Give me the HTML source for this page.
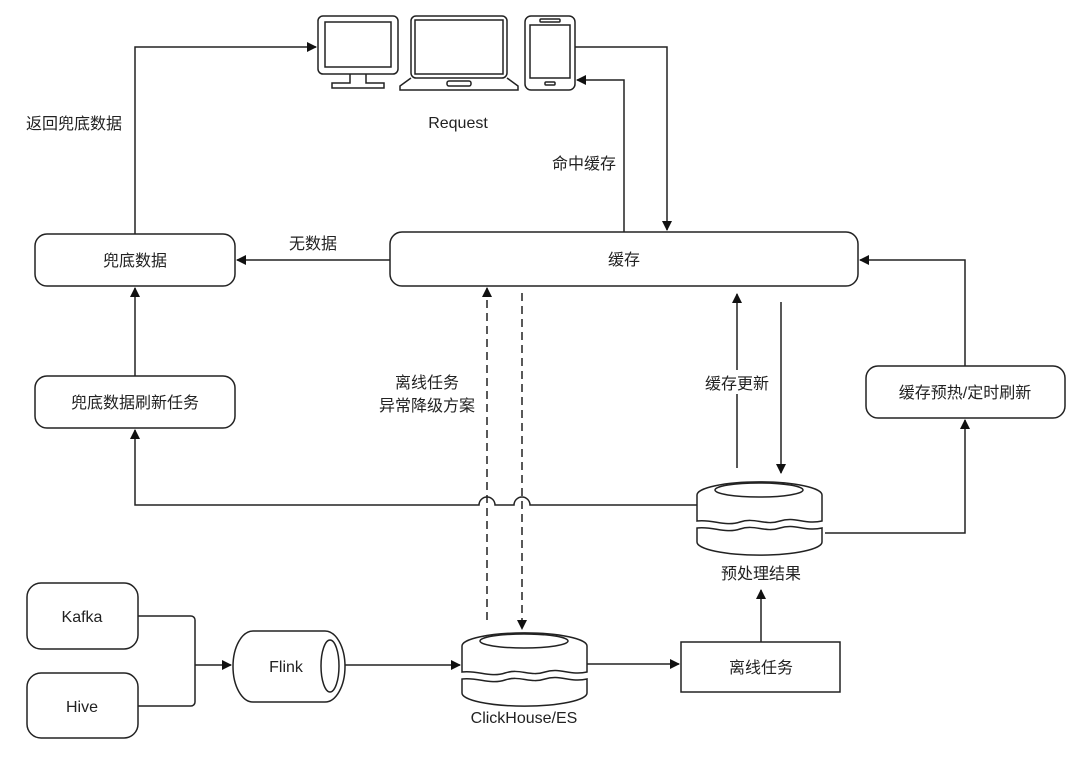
<!DOCTYPE html>
<html><head><meta charset="utf-8"><style>
html,body{margin:0;padding:0;background:#fff;}
svg text{font-family:"Liberation Sans","Noto Sans CJK SC",sans-serif;font-size:16px;fill:#222;}
</style></head><body>
<svg width="1080" height="752" viewBox="0 0 1080 752" xmlns="http://www.w3.org/2000/svg">
<defs>
<marker id="a" markerWidth="10" markerHeight="10" refX="9" refY="5" orient="auto" markerUnits="userSpaceOnUse"><path d="M0,0 L10,5 L0,10 z" fill="#111"/></marker>
</defs>
<g fill="none" stroke="#222" stroke-width="1.5">
<rect x="318" y="16" width="80" height="58" rx="5"/><rect x="325" y="22" width="66" height="45"/>
<path d="M350,74 v9 h-18 v5 h52 v-5 h-18 v-9"/>
<rect x="411" y="16" width="96" height="62" rx="5"/><rect x="415" y="20" width="88" height="54"/>
<path d="M411,78 l-11,8 v4 h118 v-4 l-11,-8"/><rect x="447" y="81" width="24" height="5" rx="2"/>
<rect x="525" y="16" width="50" height="74" rx="6"/><rect x="530" y="25" width="40" height="53"/>
<rect x="540" y="19" width="20" height="3" rx="1"/><rect x="545" y="82" width="10" height="3" rx="1"/>
<rect x="35" y="234" width="200" height="52" rx="12"/>
<rect x="390" y="232" width="468" height="54" rx="12"/>
<rect x="35" y="376" width="200" height="52" rx="12"/>
<rect x="866" y="366" width="199" height="52" rx="12"/>
<rect x="27" y="583" width="111" height="66" rx="14"/>
<rect x="27" y="673" width="111" height="65" rx="14"/>
<rect x="681" y="642" width="159" height="50"/>
<path d="M253,631 H325 A20,35.5 0 0 1 325,702 H253 A20,35.5 0 0 1 253,631 z"/>
<ellipse cx="330" cy="666" rx="9" ry="26"/>
<g>
<path d="M462,646 A62,13 0 0 1 587,646 V672 C570,676 560,667 545,672 C530,677 520,668 505,673 C490,678 478,670 462,672 z"/>
<ellipse cx="524" cy="641" rx="44" ry="7"/>
<path d="M462,679 C478,677 490,685 505,680 C520,675 530,684 545,679 C560,674 570,683 587,679 V693 A62,13 0 0 1 462,693 z"/>
</g>
<g transform="translate(235,-151)">
<path d="M462,646 A62,13 0 0 1 587,646 V672 C570,676 560,667 545,672 C530,677 520,668 505,673 C490,678 478,670 462,672 z"/>
<ellipse cx="524" cy="641" rx="44" ry="7"/>
<path d="M462,679 C478,677 490,685 505,680 C520,675 530,684 545,679 C560,674 570,683 587,679 V693 A62,13 0 0 1 462,693 z"/>
</g>
<path d="M135,234 V47 H316" marker-end="url(#a)"/>
<path d="M575,47 H667 V230" marker-end="url(#a)"/>
<path d="M624,232 V80 H577" marker-end="url(#a)"/>
<path d="M390,260 H237" marker-end="url(#a)"/>
<path d="M135,376 V288" marker-end="url(#a)"/>
<path d="M697,505 H530 a8,8 0 0 0 -16,0 H495 a8,8 0 0 0 -16,0 H135 V430" marker-end="url(#a)"/>
<path d="M487,620 V288" stroke-dasharray="8,5" marker-end="url(#a)"/>
<path d="M522,293 V629" stroke-dasharray="8,5" marker-end="url(#a)"/>
<path d="M737,468 V294" marker-end="url(#a)"/>
<path d="M781,302 V473" marker-end="url(#a)"/>
<path d="M825,533 H965 V420" marker-end="url(#a)"/>
<path d="M965,366 V260 H860" marker-end="url(#a)"/>
<path d="M138,616 H191 a4,4 0 0 1 4,4 V702 a4,4 0 0 1 -4,4 H138"/>
<path d="M195,665 H231" marker-end="url(#a)"/>
<path d="M345,665 H460" marker-end="url(#a)"/>
<path d="M587,664 H679" marker-end="url(#a)"/>
<path d="M761,642 V590" marker-end="url(#a)"/>
</g>
<rect x="702" y="370" width="70" height="24" fill="#fff"/>
<g text-anchor="middle">
<text x="458" y="128">Request</text>
<text x="74" y="129">返回兜底数据</text>
<text x="584" y="169">命中缓存</text>
<text x="313" y="249">无数据</text>
<text x="135" y="266">兜底数据</text>
<text x="624" y="265">缓存</text>
<text x="135" y="408">兜底数据刷新任务</text>
<text x="965" y="398">缓存预热/定时刷新</text>
<text x="427" y="388">离线任务</text>
<text x="427" y="411">异常降级方案</text>
<text x="737" y="389">缓存更新</text>
<text x="761" y="579">预处理结果</text>
<text x="82" y="622">Kafka</text>
<text x="82" y="712">Hive</text>
<text x="286" y="672">Flink</text>
<text x="524" y="723">ClickHouse/ES</text>
<text x="761" y="673">离线任务</text>
</g>
</svg>
</body></html>
